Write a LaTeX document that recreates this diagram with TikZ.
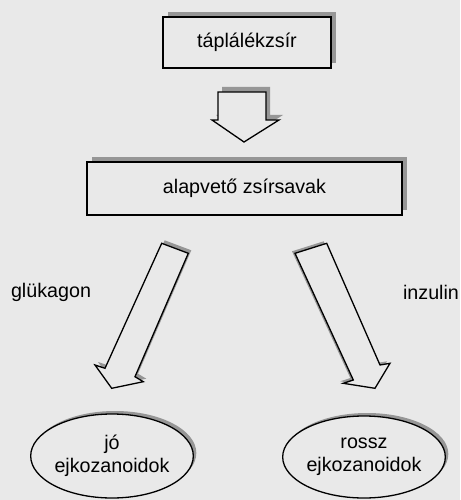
\documentclass[tikz,border=0pt]{standalone}
\usepackage{fontspec}
\setmainfont{Liberation Sans}
\usetikzlibrary{shapes.geometric,shadows}
\definecolor{paper}{RGB}{233,233,233}
\definecolor{shade}{RGB}{150,150,150}
\begin{document}
\begin{tikzpicture}[x=1pt,y=-1pt,
  txt/.style={font=\fontsize{19.7}{23}\selectfont, align=center, inner sep=0pt},
  boxed/.style={txt, draw, line width=1.3pt, fill=paper, rectangle,
    drop shadow={shadow xshift=5pt, shadow yshift=5pt, fill=shade, opacity=1}},
  oval/.style={txt, draw, line width=1.3pt, fill=paper, ellipse,
    drop shadow={shadow xshift=3pt, shadow yshift=3pt, fill=shade, opacity=1}},
  blockarrow/.style={draw, line width=1.3pt, fill=paper, line join=miter},
  arrowshade/.style={fill=shade}]
  % page
  \fill[paper] (0,0) rectangle (460,500);
  \useasboundingbox (0,0) rectangle (460,500);

  % boxes
  \node[boxed, minimum width=168pt, minimum height=51pt] (food) at (247,42.5) {táplálékzsír};
  \node[boxed, minimum width=315pt, minimum height=53pt] (acids) at (244.5,188.5) {alapvető zsírsavak};

  % ellipses
  \node[oval, minimum width=160pt, minimum height=84pt] (good) at (112,456) {jó\\ejkozanoidok};
  \node[oval, minimum width=160pt, minimum height=82pt] (bad) at (364,457) {rossz\\ejkozanoidok};

  % side labels
  \node[txt] (gluc) at (51,292) {glükagon};
  \node[txt] (ins) at (431,292) {inzulin};

  % block arrow from food to acids
  \fill[arrowshade, shift={(4,-5)}]
    (218,92) -- (266,92) -- (266,120) -- (279,120) -- (244,142) -- (212,120) -- (218,120) -- cycle;
  \draw[blockarrow]
    (218,92) -- (266,92) -- (266,120) -- (279,120) -- (244,142) -- (212,120) -- (218,120) -- cycle;

  % block arrow towards the good eicosanoids
  \fill[arrowshade, shift={(3,-3)}]
    (161.7,243.3) -- (188.3,253.3) -- (135,376.7) -- (143.3,381.7) -- (111.7,388.3) -- (95,365) -- (105,368.3) -- cycle;
  \draw[blockarrow]
    (161.7,243.3) -- (188.3,253.3) -- (135,376.7) -- (143.3,381.7) -- (111.7,388.3) -- (95,365) -- (105,368.3) -- cycle;

  % block arrow towards the bad eicosanoids
  \fill[arrowshade, shift={(-3,-2)}]
    (295,253.3) -- (326.7,243.3) -- (380,365) -- (390,363.3) -- (375,388.3) -- (343.3,383.3) -- (353.3,380) -- cycle;
  \draw[blockarrow]
    (295,253.3) -- (326.7,243.3) -- (380,365) -- (390,363.3) -- (375,388.3) -- (343.3,383.3) -- (353.3,380) -- cycle;
\end{tikzpicture}
\end{document}
